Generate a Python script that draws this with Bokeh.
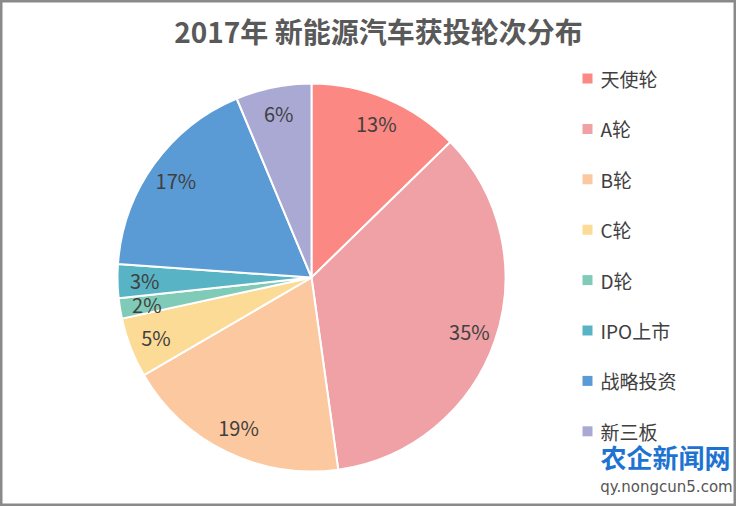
import math
from bokeh.plotting import figure
from bokeh.models import Range1d, Label, ColumnDataSource
from bokeh.core.properties import value
from bokeh.embed import file_html
from bokeh.resources import INLINE

categories = ["天使轮", "A轮", "B轮", "C轮", "D轮", "IPO上市", "战略投资", "新三板"]
shares = [12.7, 35.1, 18.8, 5.0, 1.7, 2.8, 17.6, 6.3]
labels = ["13%", "35%", "19%", "5%", "2%", "3%", "17%", "6%"]
colors = ["#FB8882", "#EFA1A6", "#FBC8A0", "#FBDB96", "#80CBB8", "#58B3C4", "#5B9BD5", "#A9A9D4"]

title_text = "2017年 新能源汽车获投轮次分布"
FONT = "Noto Sans CJK SC"

W, H = 736, 506
p = figure(width=W, height=H, output_backend="svg", toolbar_location=None,
           x_range=Range1d(0, W), y_range=Range1d(-H, 0),
           min_border=0)
p.axis.visible = False
p.grid.visible = False
p.outline_line_color = "#8a8a8a"
p.outline_line_width = 4
p.background_fill_color = "white"
p.border_fill_color = "white"

cx, cy, R = 311, -277, 194
total = sum(shares)
starts, ends, lx, ly = [], [], [], []
cum = 0.0
for s in shares:
    a0 = math.pi / 2 - 2 * math.pi * cum / total
    cum += s
    a1 = math.pi / 2 - 2 * math.pi * cum / total
    starts.append(a0)
    ends.append(a1)
    mid = (a0 + a1) / 2
    r = 0.86 * R
    lx.append(cx + r * math.cos(mid))
    ly.append(cy + r * math.sin(mid))

src = ColumnDataSource(dict(start=starts, end=ends, color=colors, lx=lx, ly=ly, label=labels))
p.wedge(x=cx, y=cy, radius=R, start_angle="start", end_angle="end", direction="clock",
        fill_color="color", line_color="white", line_width=2, source=src)
p.text(x="lx", y="ly", text="label", source=src, text_font=value(FONT), text_font_size="20px",
       text_color="#404040", text_align="center", text_baseline="middle")

# legend
n = len(categories)
leg_y = [-(78 + i * 50.4) for i in range(n)]
leg_src = ColumnDataSource(dict(y=leg_y, cat=categories, color=colors,
                                sx=[587] * n, tx=[600] * n))
p.rect(x="sx", y="y", width=10, height=10, fill_color="color", line_color=None, source=leg_src)
p.text(x="tx", y="y", text="cat", source=leg_src, text_font=value(FONT), text_font_size="19px",
       text_color="#404040", text_align="left", text_baseline="middle")

p.add_layout(Label(x=378, y=-30, text=title_text, text_font=FONT, text_font_size="28px",
                   text_font_style="bold", text_color="#595959", text_align="center",
                   text_baseline="middle"))

# watermark
p.add_layout(Label(x=665, y=-456, text="农企新闻网", text_font=FONT, text_font_size="26px",
                   text_font_style="bold", text_color="#1E73D2", text_align="center",
                   text_baseline="middle"))
p.add_layout(Label(x=666, y=-486, text="qy.nongcun5.com", text_font="DejaVu Sans", text_font_size="15px",
                   text_color="#555555", text_align="center", text_baseline="middle"))

open("out.html", "w").write(file_html(p, INLINE))
